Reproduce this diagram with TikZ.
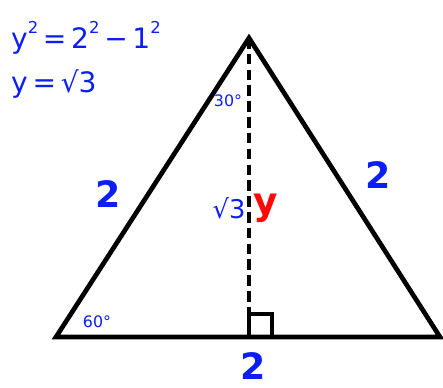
\documentclass[tikz,border=0pt]{standalone}
\usepackage{fontspec}
\setmainfont{DejaVu Sans}
\usepackage{xcolor}
\definecolor{penblue}{RGB}{10,30,245}
\definecolor{penred}{RGB}{250,10,10}

\newcommand{\sq}[1]{\raisebox{0.55em}{\fontsize{14pt}{14pt}\selectfont #1}}

\tikzset{
  side/.style={line width=4pt, line join=miter},
  height/.style={line width=4pt, dash pattern=on 9pt off 4.5pt},
  biglabel/.style={text=penblue, font=\fontsize{31pt}{31pt}\selectfont\bfseries},
  anglelabel/.style={text=penblue, font=\fontsize{13.5pt}{13.5pt}\selectfont},
  handwriting/.style={text=penblue, font=\fontsize{24pt}{26pt}\selectfont, anchor=west, inner sep=0pt}
}

\begin{document}
\begin{tikzpicture}[x=0.03cm, y=-0.03cm]
\useasboundingbox (0,0) rectangle (443,388);

\coordinate (apex) at (249,38);
\coordinate (leftcorner) at (56,337);
\coordinate (rightcorner) at (440,337);
\coordinate (foot) at (249,337);
\coordinate (squaretop) at (249,313);

% triangle and its height
\draw[side] (leftcorner) -- (apex) -- (rightcorner) -- cycle;
\draw[height] (apex) -- (squaretop);
\draw[line width=3.6pt] (foot) rectangle (272,314);

% side lengths
\node[biglabel] (leftside) at (108,194) {2};
\node[biglabel] (rightside) at (378,175) {2};
\node[biglabel] (base) at (253,366) {2};

% angles
\node[anglelabel] (topangle) at (228,101) {30°};
\node[anglelabel] (baseangle) at (97,322) {60°};

% height labels
\node[text=penblue, font=\fontsize{22pt}{22pt}\selectfont] (rootlabel) at (229,208) {√3};
\node[text=penred, font=\fontsize{32pt}{32pt}\selectfont\bfseries] (ylabel) at (266,208) {y};

% working
\node[handwriting] (lineone) at (11,38) {y\sq{2}\,=\,2\sq{2}\,−\,1\sq{2}};
\node[handwriting] (linetwo) at (11,84) {y\,=\,√3};
\end{tikzpicture}
\end{document}
